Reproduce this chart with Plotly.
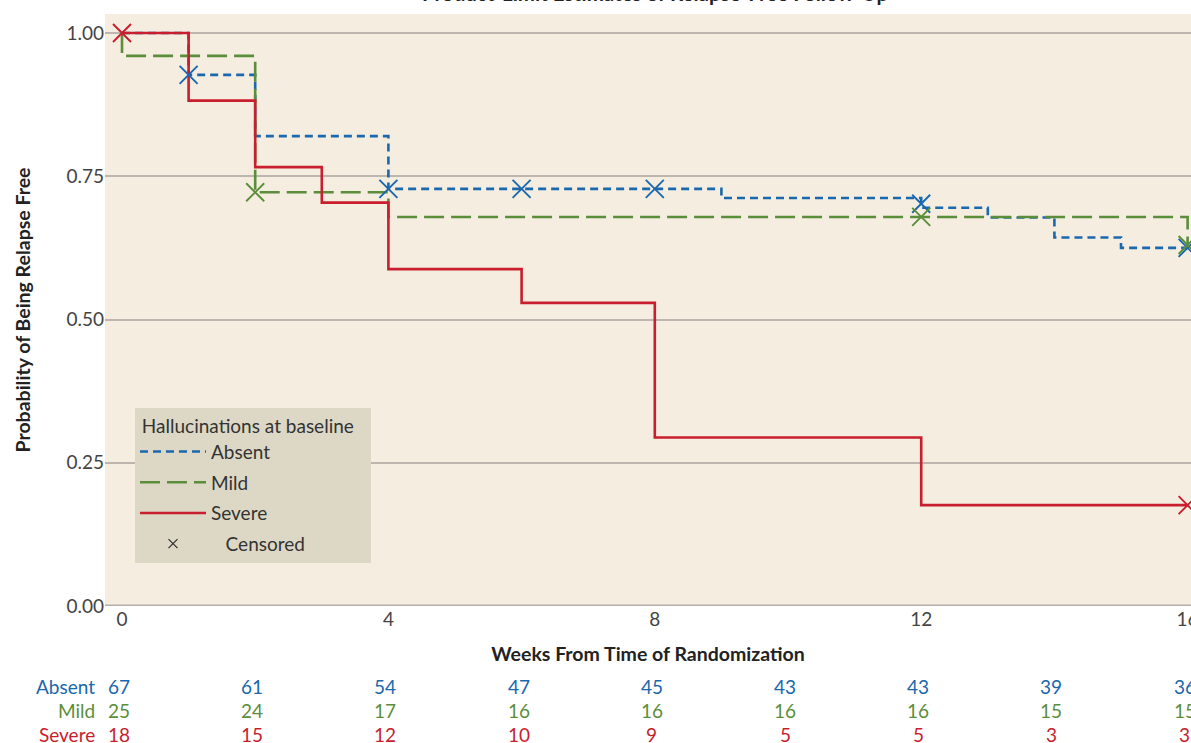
import plotly.graph_objects as go

# ---------------- data ----------------
absent_t = [0, 1, 2, 4, 9, 12, 13, 14, 15, 16]
absent_s = [1.0, 0.927, 0.820, 0.728, 0.712, 0.695, 0.678, 0.643, 0.625, 0.625]
absent_cens_t = [1, 4, 6, 8, 12, 16]
absent_cens_s = [0.927, 0.728, 0.728, 0.728, 0.702, 0.625]

mild_t = [0, 0.0, 2, 4, 16, 16]
mild_s = [1.0, 0.960, 0.722, 0.679, 0.679, 0.630]
mild_cens_t = [2, 12, 16]
mild_cens_s = [0.722, 0.679, 0.630]

severe_t = [0, 1, 2, 3, 4, 6, 8, 12, 16]
severe_s = [1.0, 0.882, 0.766, 0.704, 0.588, 0.529, 0.294, 0.176, 0.176]
severe_cens_t = [0, 16]
severe_cens_s = [1.0, 0.176]

risk_weeks = [0, 2, 4, 6, 8, 10, 12, 14, 16]
risk_absent = [67, 61, 54, 47, 45, 43, 43, 39, 36]
risk_mild = [25, 24, 17, 16, 16, 16, 16, 15, 15]
risk_severe = [18, 15, 12, 10, 9, 5, 5, 3, 3]

x_ticks = [0, 4, 8, 12, 16]
y_ticks = [0, 0.25, 0.5, 0.75, 1.0]

# ---------------- style ----------------
BLUE = "#1A68AE"
GREEN = "#5B8E3B"
RED = "#C81E2D"
FONT = "Lato"
FS = 19
W, H = 1191, 743
ML, MR, MT, MB = 105, 0, 14, 137

fig = go.Figure()

def curve(t, s, color, dash, name, grp):
    fig.add_trace(go.Scatter(
        x=t, y=s, mode="lines", line=dict(color=color, width=2.6, dash=dash, shape="hv"),
        name=name, legendgroup=grp, hoverinfo="skip"))

def cens(t, s, color):
    fig.add_trace(go.Scatter(
        x=t, y=s, mode="markers", showlegend=False,
        marker=dict(symbol="x-thin", size=18, line=dict(color=color, width=1.9), color=color),
        hoverinfo="skip"))

curve(absent_t, absent_s, BLUE, "8px,5px", "Absent", "g1")
curve(mild_t, mild_s, GREEN, "20px,7px", "Mild", "g2")
curve(severe_t, severe_s, RED, "solid", "Severe", "g3")
cens(absent_cens_t, absent_cens_s, BLUE)
cens(mild_cens_t, mild_cens_s, GREEN)
cens(severe_cens_t, severe_cens_s, RED)

# legend entry for censored
fig.add_trace(go.Scatter(
    x=[None], y=[None], mode="markers", legendgroup="g4",
    name="&nbsp;&nbsp;&nbsp;Censored",
    marker=dict(symbol="x-thin", size=9, line=dict(color="#333333", width=1.3), color="#333333")))

px_per_week = 66.6
x0 = -17 / px_per_week
x1 = (W - 122) / px_per_week

# risk table
rows = [("Absent", risk_absent, BLUE, 686), ("Mild", risk_mild, GREEN, 710), ("Severe", risk_severe, RED, 734)]
plot_h = H - MT - MB
plot_w = W - ML - MR
for label, vals, col, ypx in rows:
    yp = (H - MB - ypx) / plot_h
    fig.add_annotation(x=(97 - ML) / plot_w, y=yp, xref="paper", yref="paper", text=label, showarrow=False,
                       xanchor="right", yanchor="middle", font=dict(family=FONT, size=FS, color=col))
    for wk, v in zip(risk_weeks, vals):
        fig.add_annotation(x=wk, y=yp, xref="x", yref="paper", text=str(v), showarrow=False,
                           xanchor="center", yanchor="middle", xshift=-3,
                           font=dict(family=FONT, size=FS, color=col))

fig.update_layout(
    width=W, height=H,
    margin=dict(l=ML, r=MR, t=MT, b=MB),
    paper_bgcolor="white", plot_bgcolor="#F5EDE0",
    font=dict(family=FONT, size=FS, color="#333333"),
    title=dict(text="<b>Product-Limit Estimates of Relapse-Free Follow-Up</b>",
               x=0.55, xanchor="center", y=1 - 1 / H, yanchor="bottom",
               font=dict(family=FONT, size=20.5, color="#222222")),
    xaxis=dict(range=[x0, x1], tickvals=x_ticks, showgrid=False, zeroline=False,
               showline=False, ticks="", ticklabeloverflow="allow", automargin=False,
               tickfont=dict(size=FS, color="#444444"),
               title=dict(text="<b>Weeks From Time of Randomization</b>", font=dict(size=19.5, color="#222222"),
                          standoff=18)),
    yaxis=dict(range=[0, (606 - 14) / 573], tickvals=y_ticks, tickformat=".2f",
               showgrid=True, gridcolor="#BDB6AE", gridwidth=1.5, zeroline=False,
               showline=False, ticks="", ticklen=0, tickfont=dict(size=FS, color="#444444"),
               automargin=False,
               title=dict(text="<b>Probability of Being Relapse Free</b>", font=dict(size=19.5, color="#222222"),
                          standoff=30)),
    legend=dict(x=30 / plot_w, y=(H - MB - 408) / plot_h, xanchor="left", yanchor="top",
                bgcolor="#DDD8C5", borderwidth=0, traceorder="grouped", tracegroupgap=3,
                title=dict(text="&nbsp;Hallucinations at baseline&nbsp;&nbsp;&nbsp;",
                           font=dict(size=FS, color="#333333")),
                font=dict(size=FS, color="#333333"), itemwidth=66),
    showlegend=True,
)
# bottom axis line
fig.add_shape(type="line", xref="paper", yref="y", x0=0, x1=1, y0=0, y1=0,
              line=dict(color="#B5AFA8", width=3))

fig.write_html("out.html", config={"displayModeBar": False},
               post_script="document.body.style.margin='0';")
